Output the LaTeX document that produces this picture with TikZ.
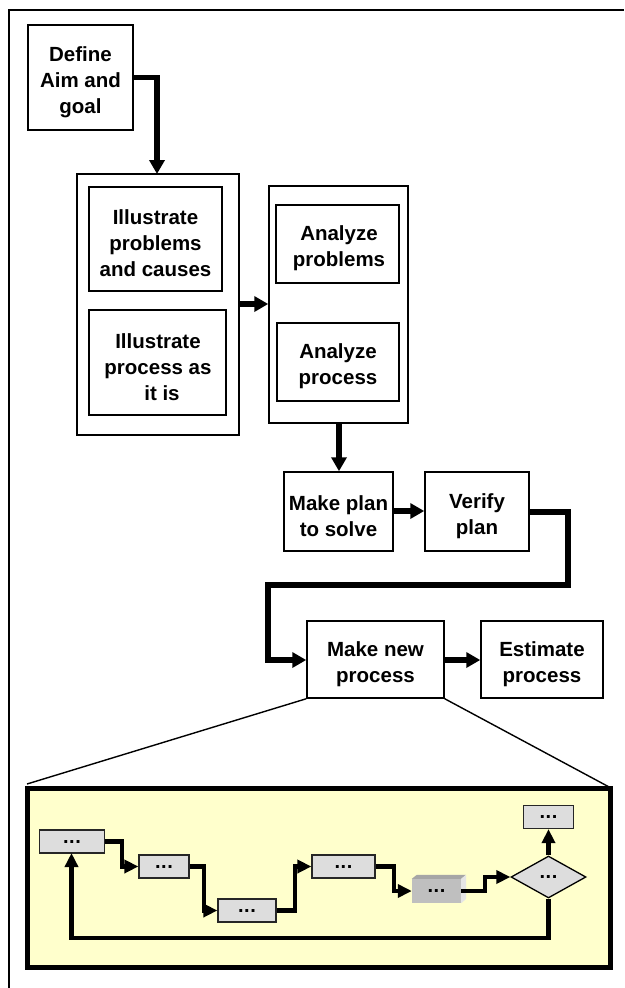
\documentclass[tikz,border=0pt]{standalone}
\usepackage{fontspec}
\setmainfont{Liberation Sans}
\newfontfamily\dotf[LetterSpace=3]{Liberation Sans}
\usetikzlibrary{arrows.meta,shapes.geometric,calc}
\definecolor{panel}{HTML}{FFFFCC}
\definecolor{boxgray}{HTML}{DDDDDD}
\tikzset{
  x=1pt,y=-1pt,
  txt/.style={align=center,inner sep=0pt,font=\bfseries\fontsize{20.5}{26}\selectfont},
  flow/.style={line width=5.5pt,-{Triangle[length=14pt,width=15pt]},miter limit=10},
  smallflow/.style={line width=4.5pt,-{Triangle[length=14pt,width=13pt]},miter limit=10},
  mini/.style={draw=black!85,line width=1.2pt,fill=boxgray,inner sep=0pt,font=\dotf\bfseries\fontsize{20}{20}\selectfont},
  zoomline/.style={line width=1.4pt},
}
\begin{document}
\begin{tikzpicture}
\useasboundingbox (0,0) rectangle (624,988);
\fill[white] (0,0) rectangle (624,988);
\draw[line width=1.8pt] (9,988) -- (9,10) -- (624,10);

% main boxes
\node[draw,line width=1.5pt,minimum width=105,minimum height=105] (def) at (80.5,77.5) {};
\node[txt] at (80.5,82) {Define\\Aim and\\goal};

\node[draw,line width=1.5pt,minimum width=162,minimum height=261] (ill) at (158,304.5) {};
\node[draw,line width=1.5pt,minimum width=133,minimum height=104] (illa) at (155.5,239) {};
\node[txt] at (155.5,243) {Illustrate\\problems\\and causes};
\node[draw,line width=1.5pt,minimum width=137,minimum height=105] (illb) at (157.5,362.5) {};
\node[txt] at (158,367) {Illustrate\\process as\\\hspace*{8pt}it is};

\node[draw,line width=1.5pt,minimum width=139,minimum height=237] (ana) at (338.5,304.5) {};
\node[draw,line width=1.5pt,minimum width=123,minimum height=78] (anaa) at (337.5,244) {};
\node[txt] at (339,248) {Analyze\\problems};
\node[draw,line width=1.5pt,minimum width=122,minimum height=78] (anab) at (338,362) {};
\node[txt] at (338,366) {Analyze\\process};

\node[draw,line width=1.5pt,minimum width=109,minimum height=79] (plan) at (338.5,511.5) {};
\node[txt] at (338.5,516) {Make plan\\to solve};
\node[draw,line width=1.5pt,minimum width=104,minimum height=79] (ver) at (477,511.5) {};
\node[txt] at (477,516) {Verify\\plan};
\node[draw,line width=1.5pt,minimum width=137,minimum height=77] (new) at (375.5,659.5) {};
\node[txt] at (375.5,664) {Make new\\process};
\node[draw,line width=1.5pt,minimum width=122,minimum height=77] (est) at (542,659.5) {};
\node[txt] at (542,664) {Estimate\\process};

% main connectors
\draw[flow] (def.east |- 0,77.5) -- (157,77.5) -- (157,174);
\draw[flow] (ill.east |- 0,304) -- (ana.west |- 0,304);
\draw[flow] (ana.south -| 339,0) -- (plan.north -| 339,0);
\draw[flow] (plan.east |- 0,511) -- (ver.west |- 0,511);
\draw[flow] (ver.east |- 0,512) -- (568,512) -- (568,585) -- (268,585) -- (268,660) -- (new.west |- 0,660);
\draw[flow] (new.east |- 0,660) -- (est.west |- 0,660);

% panel
\draw[line width=5pt,fill=panel,miter limit=10] (27.5,788.5) rectangle (610.5,967);
\coordinate (pl) at (27,784);
\coordinate (pr) at (611,788);
\draw[zoomline] (new.south west) -- (pl);
\draw[zoomline] (new.south east) -- (pr);

\node[mini,minimum width=65,minimum height=23] (a) at (72,841.5) {...};
\node[mini,minimum width=50,minimum height=23] (b) at (164,866.5) {...};
\node[mini,minimum width=58,minimum height=23] (c) at (247,910.5) {...};
\node[mini,minimum width=63,minimum height=23] (d) at (343.5,866.5) {...};
% bevelled box
\node[inner sep=0pt,minimum width=49,minimum height=24,fill=black!25,font=\dotf\bfseries\fontsize{20}{20}\selectfont] (e) at (436.5,891) {...};
\fill[black!35] (e.north west) -- ++(5,-4) -- ++(49,0) -- (e.north east) -- cycle;
\fill[black!10] (e.north east) -- ++(5,-4) -- ++(0,24) -- (e.south east) -- cycle;
\node[diamond,draw=black,line width=1.3pt,fill=boxgray,inner sep=0pt,aspect=1.78,minimum width=75,minimum height=42,font=\dotf\bfseries\fontsize{20}{20}\selectfont] (g) at (548.5,877) {...};
\node[mini,minimum width=50,minimum height=23] (f) at (548.5,817) {...};

\draw[smallflow] (a.east) -- (122,841.5) -- (122,866.5) -- (b.west);
\draw[smallflow] (b.east) -- (204,866.5) -- (204,910.5) -- (c.west);
\draw[smallflow] (c.east) -- (295,910.5) -- (295,866.5) -- (d.west);
\draw[smallflow] (d.east) -- (394,866.5) -- (394,891) -- (e.west);
\draw[smallflow] (e.east) -- (485,891) -- (485,877) -- (g.west);
\draw[smallflow] (g.north) -- (f.south);
\draw[smallflow] (g.south) -- (548.5,938) -- (71.5,938) -- (71.5,853);
\end{tikzpicture}
\end{document}
